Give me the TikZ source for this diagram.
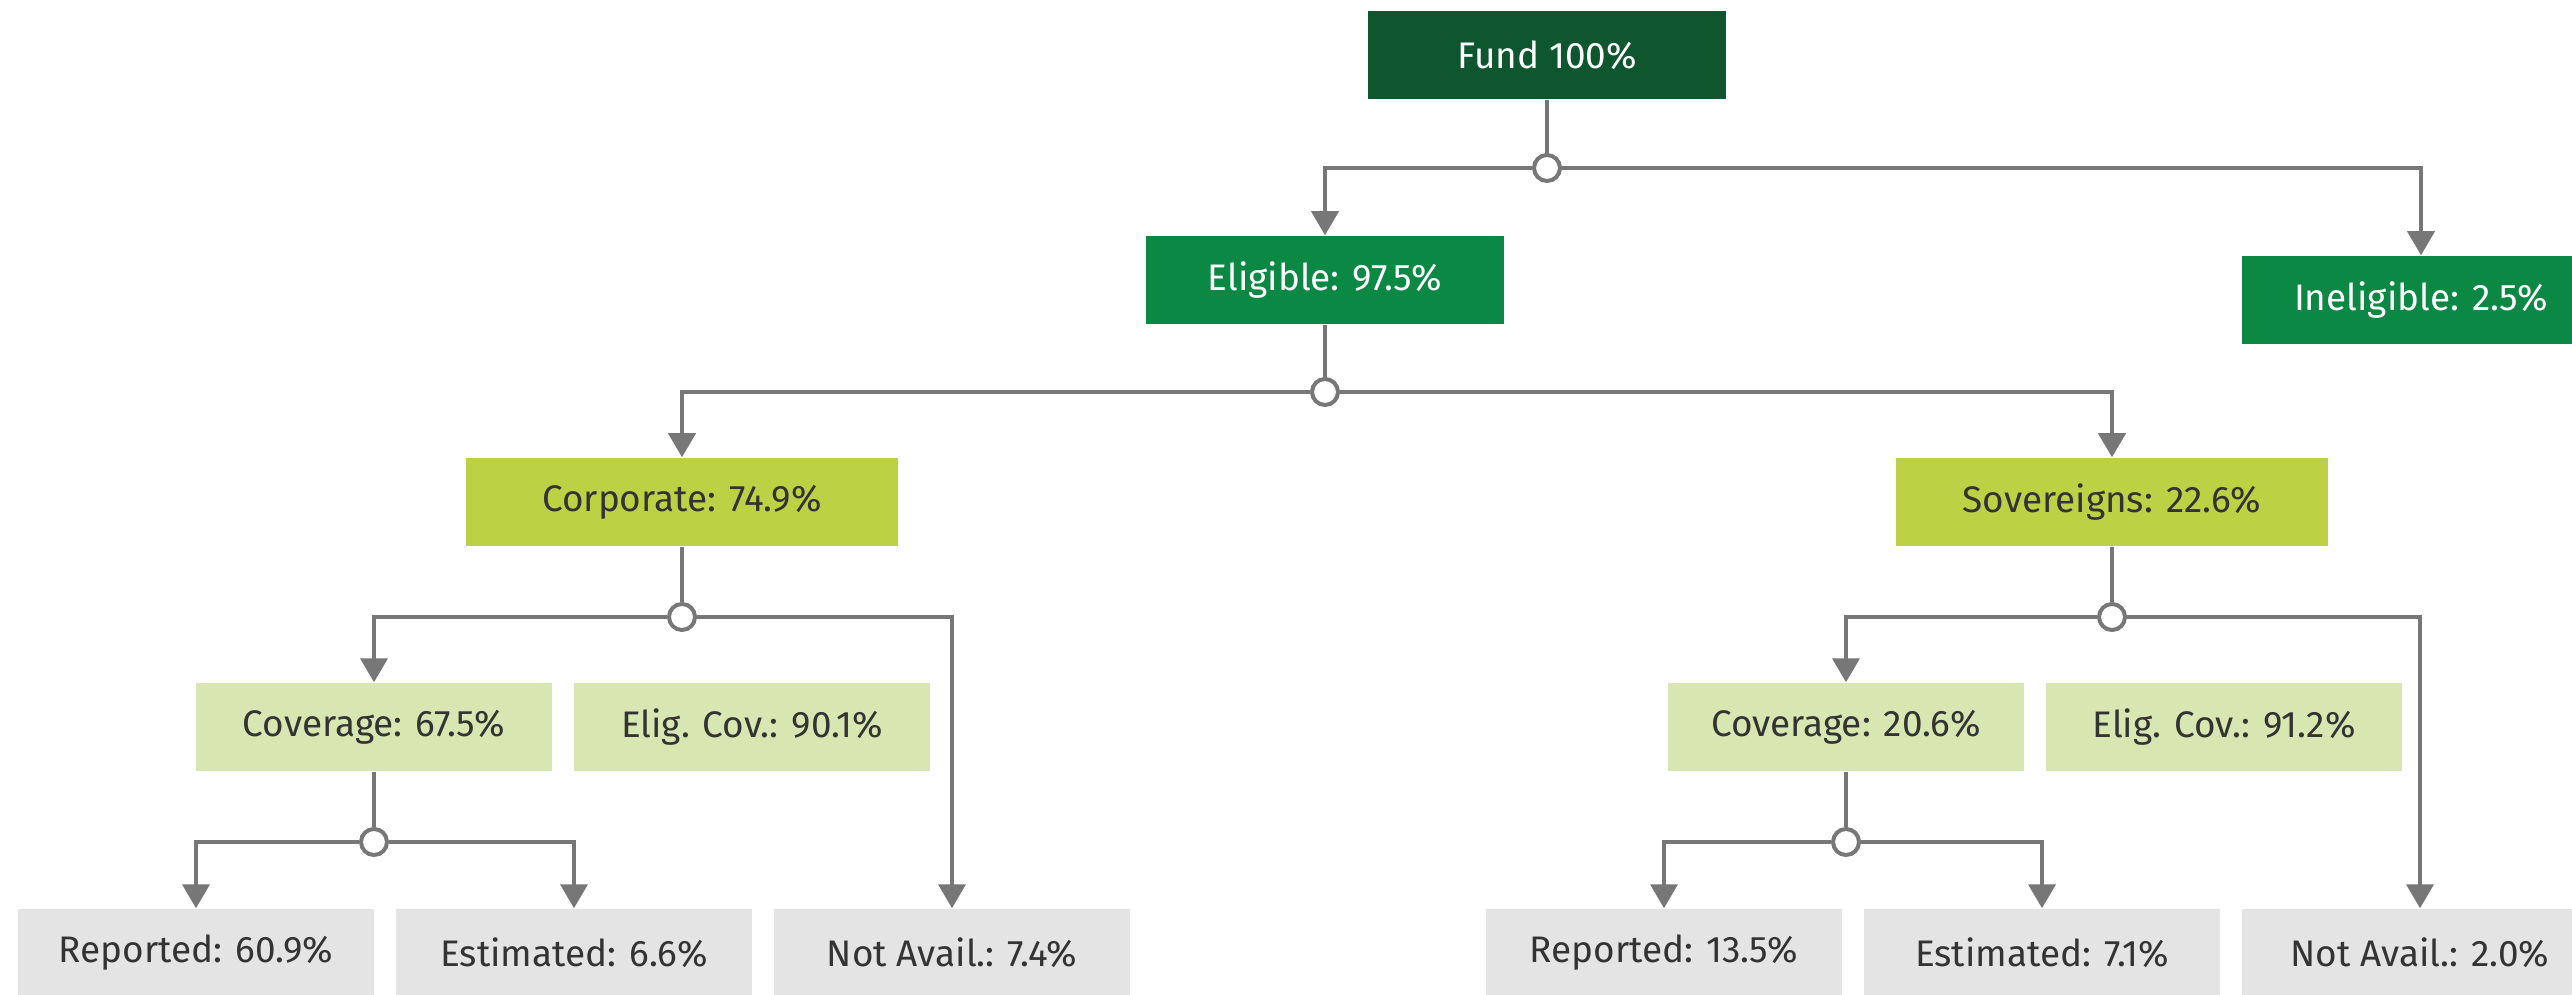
\documentclass[tikz,border=0pt]{standalone}
\usepackage{fontspec}
\setmainfont{Fira Sans}
\usepackage{xcolor}
\usetikzlibrary{positioning,arrows.meta}

\definecolor{funddark}{HTML}{0E562D}
\definecolor{eliggreen}{HTML}{0C8845}
\definecolor{sectorlime}{HTML}{BCD244}
\definecolor{covlight}{HTML}{D8E6B1}
\definecolor{srcgrey}{HTML}{E4E4E4}
\definecolor{linegrey}{HTML}{777777}
\definecolor{textdark}{HTML}{333333}

\begin{document}
\begin{tikzpicture}[
    x=0.01cm, y=-0.01cm,
    box/.style={inner sep=0pt, minimum height=0.88cm, font=\fontsize{10.5}{12}\selectfont},
    fundnode/.style={box, fill=funddark, text=white, minimum width=3.58cm},
    elignode/.style={box, fill=eliggreen, text=white, minimum width=3.58cm},
    sectornode/.style={box, fill=sectorlime, text=textdark, minimum width=4.32cm},
    covnode/.style={box, fill=covlight, text=textdark, minimum width=3.56cm},
    srcnode/.style={box, fill=srcgrey, text=textdark, minimum width=3.56cm},
    splitdot/.style={circle, draw=linegrey, fill=white, line width=0.04cm, inner sep=0pt, minimum size=2.6mm},
    link/.style={draw=linegrey, line width=0.04cm},
    arrow/.style={link, -{Triangle[length=2.4mm, width=2.7mm]}}
]
\clip (0,0) rectangle (2572,995);

% Top level
\node[fundnode] (fund) at (1547,55) {Fund 100\%};
\node[elignode] (elig) at (1325,280) {Eligible: 97.5\%};
\node[elignode] (inelig) at (2421,300) {Ineligible: 2.5\%};

% Sectors
\node[sectornode] (corp) at (682,502) {Corporate: 74.9\%};
\node[sectornode] (sov) at (2112,502) {Sovereigns: 22.6\%};

% Coverage row
\node[covnode] (covL) at (374,727) {Coverage: 67.5\%};
\node[covnode] (ecovL) at (752,727) {Elig. Cov.: 90.1\%};
\node[covnode] (covR) at (1846,727) {Coverage: 20.6\%};
\node[covnode] (ecovR) at (2224,727) {Elig. Cov.: 91.2\%};

% Source row
\node[srcnode] (repL) at (196,953) {Reported: 60.9\%};
\node[srcnode] (estL) at (574,953) {Estimated: 6.6\%};
\node[srcnode] (naL) at (952,953) {Not Avail.: 7.4\%};
\node[srcnode] (repR) at (1664,953) {Reported: 13.5\%};
\node[srcnode] (estR) at (2042,953) {Estimated: 7.1\%};
\node[srcnode] (naR) at (2420,953) {Not Avail.: 2.0\%};

% Split points
\node[splitdot] (s1) at (fund |- 0,168) {};
\node[splitdot] (s2) at (elig |- 0,392) {};
\node[splitdot] (s3) at (corp |- 0,617) {};
\node[splitdot] (s4) at (sov |- 0,617) {};
\node[splitdot] (s5) at (covL |- 0,842) {};
\node[splitdot] (s6) at (covR |- 0,842) {};

% Connectors
\draw[link] (fund) -- (s1);
\draw[arrow] (s1) -| (elig);
\draw[arrow] (s1) -| (inelig);

\draw[link] (elig) -- (s2);
\draw[arrow] (s2) -| (corp);
\draw[arrow] (s2) -| (sov);

\draw[link] (corp) -- (s3);
\draw[arrow] (s3) -| (covL);
\draw[arrow] (s3) -| (naL);

\draw[link] (sov) -- (s4);
\draw[arrow] (s4) -| (covR);
\draw[arrow] (s4) -| (naR);

\draw[link] (covL) -- (s5);
\draw[arrow] (s5) -| (repL);
\draw[arrow] (s5) -| (estL);

\draw[link] (covR) -- (s6);
\draw[arrow] (s6) -| (repR);
\draw[arrow] (s6) -| (estR);

\end{tikzpicture}
\end{document}
